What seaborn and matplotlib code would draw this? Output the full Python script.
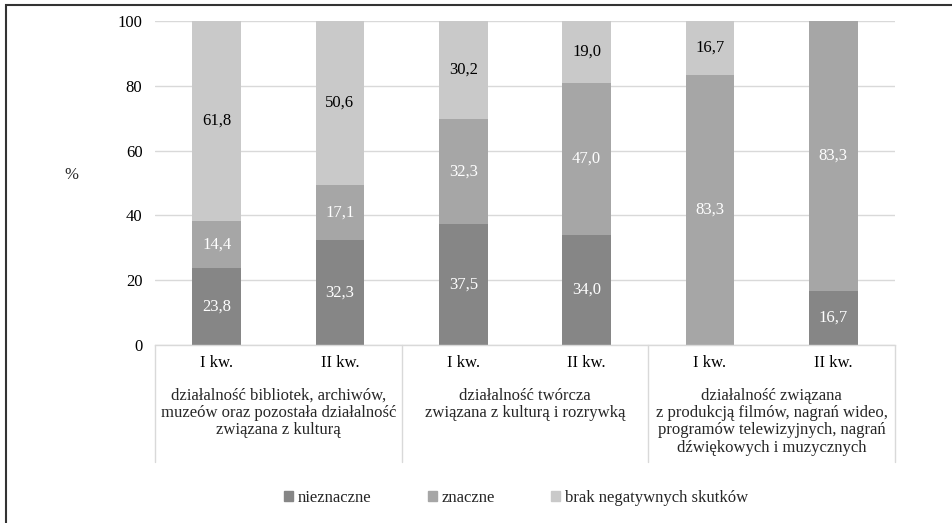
import matplotlib
matplotlib.use("Agg")
import matplotlib.pyplot as plt
import matplotlib.patches as mpatches
from matplotlib.lines import Line2D
import seaborn as sns
import numpy as np
import pandas as pd

quarters = ["I kw.", "II kw.", "I kw.", "II kw.", "I kw.", "II kw."]
groups = [
    "działalność bibliotek, archiwów,\nmuzeów oraz pozostała działalność\nzwiązana z kulturą",
    "działalność twórcza\nzwiązana z kulturą i rozrywką",
    "działalność związana\nz produkcją filmów, nagrań wideo,\nprogramów telewizyjnych, nagrań\ndźwiękowych i muzycznych",
]
series = ["nieznaczne", "znaczne", "brak negatywnych skutków"]
nieznaczne = [23.8, 32.3, 37.5, 34.0, 0.0, 16.7]
znaczne = [14.4, 17.1, 32.3, 47.0, 83.3, 83.3]
brak = [61.8, 50.6, 30.2, 19.0, 16.7, 0.0]
yticks = [0, 20, 40, 60, 80, 100]

colors = ["#868686", "#a6a6a6", "#c9c9c9"]
text_colors = ["white", "white", "black"]
FS = 12

sns.set_theme(style="white")
plt.rcParams["font.family"] = ["Liberation Serif", "DejaVu Serif"]
plt.rcParams["font.size"] = FS

fig = plt.figure(figsize=(9.53, 5.23), dpi=100)
ax = fig.add_axes([155 / 953, 1 - 345 / 523, 740 / 953, 324 / 523])

pos = list(range(len(quarters)))
df = pd.DataFrame({"pos": pos, "n": nieznaczne, "z": znaczne, "b": brak})
bottom = np.zeros(len(pos))
for key, vals, col, tcol in zip(["n", "z", "b"], [nieznaczne, znaczne, brak], colors, text_colors):
    sns.barplot(data=df, x="pos", y=key, bottom=bottom, color=col, width=0.395,
                saturation=1, ax=ax, native_scale=True, edgecolor="none", linewidth=0)
    cont = ax.containers[-1]
    labels = [f"{v:.1f}".replace(".", ",") if v > 0 else "" for v in vals]
    ax.bar_label(cont, labels=labels, label_type="center", color=tcol, fontsize=FS)
    bottom = bottom + np.array(vals)

ax.set_xlim(-0.5, 5.5)
ax.set_ylim(0, 100)
ax.set_yticks(yticks)
ax.set_yticklabels([str(t) for t in yticks])
ax.set_xticks(pos)
ax.set_xticklabels(quarters)
ax.set_xlabel("")
ax.set_ylabel("")
ax.yaxis.grid(True, color="#d9d9d9", linewidth=1)
ax.set_axisbelow(True)
for s in ["top", "right", "left"]:
    ax.spines[s].set_visible(False)
ax.spines["bottom"].set_color("#d9d9d9")
ax.spines["bottom"].set_linewidth(1)
ax.tick_params(axis="both", length=0, labelsize=FS, colors="black")
ax.tick_params(axis="y", pad=9)
ax.tick_params(axis="x", pad=7)

# group separators
trans = ax.get_xaxis_transform()
for xsep in [-0.5, 1.5, 3.5, 5.5]:
    ax.add_line(Line2D([xsep, xsep], [0, -117 / 324], transform=trans, color="#d9d9d9",
                       linewidth=1, clip_on=False))
for gi, g in enumerate(groups):
    ax.text(2 * gi + 0.5, -43 / 324, g, transform=trans, ha="center", va="top",
            fontsize=FS, linespacing=1.1)

fig.text(71 / 953, 1 - 175 / 523, "%", ha="center", va="center", fontsize=FS)

handles = [mpatches.Patch(color=c, label=l) for c, l in zip(colors, series)]
fig.legend(handles=handles, loc="center", bbox_to_anchor=(516 / 953, 1 - 498 / 523), ncol=3,
           frameon=False, fontsize=FS, handlelength=0.55, handleheight=0.55,
           handletextpad=0.25, columnspacing=3.4)

fig.add_artist(mpatches.Rectangle((6 / 953, -0.5), 2, 1.5 - 5 / 523, transform=fig.transFigure,
                                  fill=False, edgecolor="#333333", linewidth=1.5))

fig.savefig("out.png", dpi=100)
